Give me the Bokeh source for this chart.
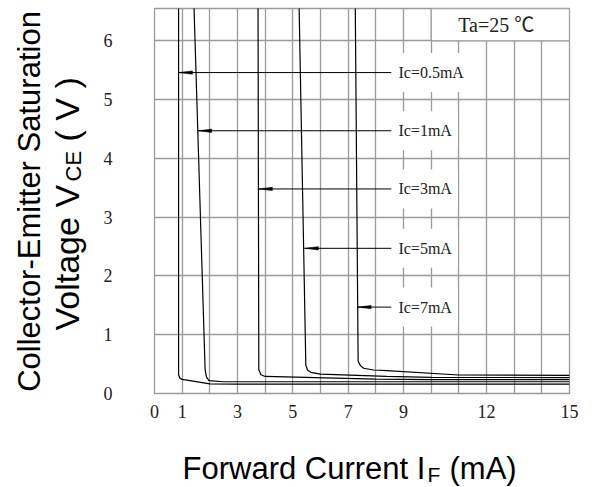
from math import pi
from bokeh.plotting import figure
from bokeh.models import Label, FixedTicker
from bokeh.layouts import column, row
from bokeh.core.properties import value
from bokeh.embed import file_html
from bokeh.resources import INLINE

# ---- data ----
x_ticks = [0, 1, 3, 5, 7, 9, 12, 15]
y_ticks = [0, 1, 2, 3, 4, 5, 6]
x_grid = list(range(0, 16))

ic_labels = ["Ic=0.5mA", "Ic=1mA", "Ic=3mA", "Ic=5mA", "Ic=7mA"]

if_05 = [0.87, 0.87, 0.92, 1.0, 2.0, 3.0, 15.0]
vce_05 = [7.0, 0.32, 0.26, 0.24, 0.165, 0.16, 0.16]
if_1 = [1.40, 1.83, 1.88, 1.97, 2.5, 15.0]
vce_1 = [7.0, 0.40, 0.28, 0.22, 0.20, 0.20]
if_3 = [3.74, 3.77, 3.85, 4.0, 8.0, 10.0, 15.0]
vce_3 = [7.0, 0.40, 0.32, 0.29, 0.245, 0.235, 0.235]
if_5 = [5.21, 5.47, 5.53, 5.65, 6.0, 8.4, 10.0, 15.0]
vce_5 = [7.0, 0.48, 0.40, 0.36, 0.33, 0.29, 0.275, 0.27]
if_7 = [7.25, 7.36, 7.45, 7.56, 7.92, 8.4, 11.0, 15.0]
vce_7 = [7.0, 0.55, 0.47, 0.43, 0.40, 0.39, 0.315, 0.31]

label_vce = [5.46, 4.47, 3.48, 2.47, 1.47]
arrow_tip_if = [0.87, 1.57, 3.76, 5.42, 7.33]
arrow_tail_if = 8.56
label_if = 8.60

ta_text = "Ta=25 ℃"
y_title_1 = "Collector-Emitter Saturation"
y_title_2 = ["Voltage V", "CE", "( V )"]
x_title = ["Forward Current I", "F", "(mA)"]

# ---- main figure ----
GRID = "#9a9a9a"
p = figure(width=492, height=430, x_range=(0, 15), y_range=(0, 6.55),
           output_backend="svg", toolbar_location=None, title=None,
           min_border_left=51, min_border_right=23,
           min_border_top=8, min_border_bottom=37)
p.outline_line_color = GRID
p.outline_line_width = 1.3

p.xaxis.ticker = FixedTicker(ticks=x_ticks)
p.yaxis.ticker = FixedTicker(ticks=y_ticks)
p.xgrid.ticker = FixedTicker(ticks=x_grid)
p.ygrid.ticker = FixedTicker(ticks=y_ticks)
for g in (p.xgrid, p.ygrid):
    g.grid_line_color = GRID
    g.grid_line_width = 1.3
    g.grid_line_alpha = 1.0

for ax in (p.xaxis, p.yaxis):
    ax.axis_line_color = None
    ax.major_tick_line_color = None
    ax.minor_tick_line_color = None
    ax.major_label_text_font = "Liberation Serif"
    ax.major_label_text_font_size = "18px"
    ax.major_label_text_color = "#222222"
p.xaxis.major_label_standoff = 5
p.yaxis.major_label_standoff = 36

# Ta box (white, covers grid)
p.quad(left=[10], right=[15], bottom=[6], top=[6.55], fill_color="white",
       line_color=GRID, line_width=1.3)

# curves
for xs, ys in [(if_05, vce_05), (if_1, vce_1), (if_3, vce_3), (if_5, vce_5), (if_7, vce_7)]:
    p.line(xs, ys, line_color="black", line_width=1.2)

# arrows
HEAD_L = 0.5
HEAD_W = 0.028
p.segment(x0=arrow_tip_if, y0=label_vce, x1=[arrow_tail_if] * len(label_vce), y1=label_vce,
          line_color="black", line_width=1.0)
p.patches(xs=[[t, t + HEAD_L, t + HEAD_L] for t in arrow_tip_if],
          ys=[[v, v + HEAD_W, v - HEAD_W] for v in label_vce],
          fill_color="black", line_color="black", line_width=0.5)

for txt, v in zip(ic_labels, label_vce):
    p.add_layout(Label(x=label_if, y=v, text=txt, text_align="left", text_baseline="middle",
                       text_font="'Liberation Serif'", text_font_size="16px", text_color="#222222",
                       background_fill_color="white",
                       padding=dict(left=6, right=6, top=11, bottom=11)))

p.add_layout(Label(x=12.35, y=6.27, text=ta_text, text_align="center", text_baseline="middle",
                   text_font="'Liberation Serif', 'Noto Sans CJK SC'", text_font_size="20px",
                   text_color="#222222"))

# ---- helper figures for the axis titles (1 unit = 1 pixel) ----
def blank(w, h, yh):
    f = figure(width=w, height=h, x_range=(0, w), y_range=(0, yh),
               output_backend="svg", toolbar_location=None, title=None,
               x_axis_type=None, y_axis_type=None,
               min_border_left=0, min_border_right=0, min_border_top=0, min_border_bottom=0)
    f.outline_line_color = None
    return f

TF = value("Liberation Sans")
# left panel: its frame is aligned with the main frame (385 px tall)
left = blank(100, 430, 385)
left.text(x=[29], y=[192], text=[y_title_1], angle=pi / 2,
          text_align="center", text_baseline="middle",
          text_font=TF, text_font_size=value("31px"), text_color="black")
left.text(x=[66], y=[63], text=[y_title_2[0]], angle=pi / 2,
          text_align="left", text_baseline="middle",
          text_font=TF, text_font_size=value("34px"), text_color="black")
left.text(x=[72.5], y=[212], text=[y_title_2[1]], angle=pi / 2,
          text_align="left", text_baseline="middle",
          text_font=TF, text_font_size=value("22px"), text_color="black")
left.text(x=[66], y=[252], text=[y_title_2[2]], angle=pi / 2,
          text_align="left", text_baseline="middle",
          text_font=TF, text_font_size=value("34px"), text_color="black")

bottom = blank(592, 57, 57)
bottom.text(x=[182], y=[19.4], text=[x_title[0]], text_align="left", text_baseline="middle",
            text_font=TF, text_font_size=value("31px"), text_color="black")
bottom.text(x=[427], y=[12.6], text=[x_title[1]], text_align="left", text_baseline="middle",
            text_font=TF, text_font_size=value("21px"), text_color="black")
bottom.text(x=[449], y=[19.4], text=[x_title[2]], text_align="left", text_baseline="middle",
            text_font=TF, text_font_size=value("31px"), text_color="black")

layout = column(row(left, p), bottom)
open("out.html", "w").write(file_html(layout, INLINE))
